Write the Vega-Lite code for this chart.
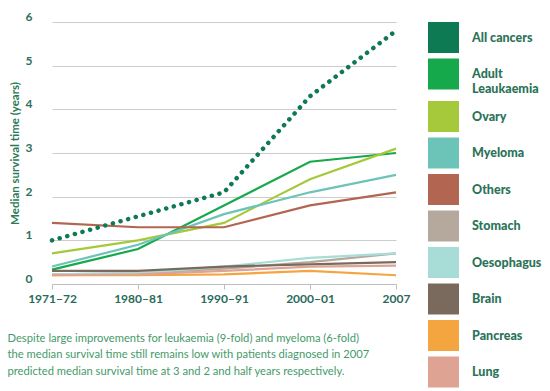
{
  "$schema": "https://vega.github.io/schema/vega-lite/v6.json",
  "width": 344,
  "height": 262,
  "autosize": {"type": "none"},
  "padding": {"left": 52, "top": 22, "right": 154, "bottom": 107},
  "background": "white",
  "config": {"view": {"stroke": null}, "font": "Lato"},
  "data": {
    "values": [
      {"period": "1971–72", "series": "All cancers", "years": 1.0},
      {"period": "1980–81", "series": "All cancers", "years": 1.55},
      {"period": "1990–91", "series": "All cancers", "years": 2.1},
      {"period": "2000–01", "series": "All cancers", "years": 4.3},
      {"period": "2007", "series": "All cancers", "years": 5.8},
      {"period": "1971–72", "series": "Adult Leaukaemia", "years": 0.33},
      {"period": "1980–81", "series": "Adult Leaukaemia", "years": 0.8},
      {"period": "1990–91", "series": "Adult Leaukaemia", "years": 1.8},
      {"period": "2000–01", "series": "Adult Leaukaemia", "years": 2.8},
      {"period": "2007", "series": "Adult Leaukaemia", "years": 3.0},
      {"period": "1971–72", "series": "Ovary", "years": 0.7},
      {"period": "1980–81", "series": "Ovary", "years": 1.0},
      {"period": "1990–91", "series": "Ovary", "years": 1.4},
      {"period": "2000–01", "series": "Ovary", "years": 2.4},
      {"period": "2007", "series": "Ovary", "years": 3.1},
      {"period": "1971–72", "series": "Myeloma", "years": 0.4},
      {"period": "1980–81", "series": "Myeloma", "years": 0.9},
      {"period": "1990–91", "series": "Myeloma", "years": 1.6},
      {"period": "2000–01", "series": "Myeloma", "years": 2.1},
      {"period": "2007", "series": "Myeloma", "years": 2.5},
      {"period": "1971–72", "series": "Others", "years": 1.4},
      {"period": "1980–81", "series": "Others", "years": 1.3},
      {"period": "1990–91", "series": "Others", "years": 1.3},
      {"period": "2000–01", "series": "Others", "years": 1.8},
      {"period": "2007", "series": "Others", "years": 2.1},
      {"period": "1971–72", "series": "Stomach", "years": 0.22},
      {"period": "1980–81", "series": "Stomach", "years": 0.25},
      {"period": "1990–91", "series": "Stomach", "years": 0.35},
      {"period": "2000–01", "series": "Stomach", "years": 0.5},
      {"period": "2007", "series": "Stomach", "years": 0.7},
      {"period": "1971–72", "series": "Oesophagus", "years": 0.22},
      {"period": "1980–81", "series": "Oesophagus", "years": 0.25},
      {"period": "1990–91", "series": "Oesophagus", "years": 0.4},
      {"period": "2000–01", "series": "Oesophagus", "years": 0.6},
      {"period": "2007", "series": "Oesophagus", "years": 0.7},
      {"period": "1971–72", "series": "Brain", "years": 0.3},
      {"period": "1980–81", "series": "Brain", "years": 0.3},
      {"period": "1990–91", "series": "Brain", "years": 0.4},
      {"period": "2000–01", "series": "Brain", "years": 0.45},
      {"period": "2007", "series": "Brain", "years": 0.5},
      {"period": "1971–72", "series": "Pancreas", "years": 0.2},
      {"period": "1980–81", "series": "Pancreas", "years": 0.2},
      {"period": "1990–91", "series": "Pancreas", "years": 0.22},
      {"period": "2000–01", "series": "Pancreas", "years": 0.3},
      {"period": "2007", "series": "Pancreas", "years": 0.2},
      {"period": "1971–72", "series": "Lung", "years": 0.2},
      {"period": "1980–81", "series": "Lung", "years": 0.22},
      {"period": "1990–91", "series": "Lung", "years": 0.3},
      {"period": "2000–01", "series": "Lung", "years": 0.4},
      {"period": "2007", "series": "Lung", "years": 0.42}
    ]
  },
  "encoding": {
    "x": {
      "field": "period",
      "type": "ordinal",
      "sort": ["1971–72", "1980–81", "1990–91", "2000–01", "2007"],
      "scale": {"type": "point", "padding": 0},
      "axis": {
        "title": [
          "Despite large improvements for leukaemia (9-fold) and myeloma (6-fold)",
          "the median survival time still remains low with patients diagnosed in 2007",
          "predicted median survival time at 3 and 2 and half years respectively."
        ],
        "titleX": -45,
        "titleY": 48,
        "titleAlign": "left",
        "titleAnchor": "start",
        "titleBaseline": "top",
        "titleFontSize": 11.2,
        "titleFontWeight": "normal",
        "titleColor": "#459a6a",
        "titleLineHeight": 16.5,
        "titleLimit": 500,
        "labelAngle": 0,
        "domainColor": "#bdbdbd",
        "tickColor": "#bdbdbd",
        "tickSize": 5,
        "labelPadding": 4,
        "labelFontSize": 12,
        "labelFontWeight": "bold",
        "labelColor": "#2b6a5a",
        "grid": false
      }
    },
    "y": {
      "field": "years",
      "type": "quantitative",
      "scale": {"domain": [0, 6]},
      "axis": {
        "values": [0, 1, 2, 3, 4, 5, 6],
        "domain": false,
        "ticks": false,
        "grid": true,
        "gridColor": "#cccccc",
        "labelPadding": 20,
        "labelFontSize": 12,
        "labelFontWeight": "bold",
        "labelColor": "#2e7060",
        "labelBaseline": "alphabetic",
        "labelOffset": -1.5,
        "title": "Median survival time (years)",
        "titleFontSize": 11.5,
        "titleFontWeight": "bold",
        "titleColor": "#2b7a58",
        "titlePadding": 5
      }
    },
    "color": {
      "field": "series",
      "type": "nominal",
      "scale": {
        "domain": ["All cancers", "Adult Leaukaemia", "Ovary", "Myeloma", "Others", "Stomach", "Oesophagus", "Brain", "Pancreas", "Lung"],
        "range": ["#0e7a53", "#16a94c", "#a5c93a", "#6cc4b8", "#b26550", "#b5a89c", "#a8dcd6", "#7a6a5e", "#f5a540", "#dea393"]
      },
      "legend": {
        "orient": "none",
        "legendX": 376,
        "legendY": 0,
        "title": null,
        "symbolType": "square",
        "symbolSize": 961,
        "symbolStrokeWidth": 0,
        "rowPadding": 5.5,
        "labelOffset": 13,
        "labelFontSize": 12.5,
        "labelFont": "Lato",
        "labelFontWeight": 900,
        "labelColor": "#2b7358",
        "labelLimit": 200,
        "labelExpr": "datum.label == 'Adult Leaukaemia' ? ['Adult', 'Leaukaemia'] : datum.label",
        "encode": {
          "symbols": {
            "update": {
              "fill": {"scale": "color", "field": "value"},
              "opacity": {"value": 1},
              "strokeWidth": {"value": 0}
            }
          }
        }
      }
    }
  },
  "layer": [
    {
      "transform": [{"filter": "datum.series !== 'All cancers'"}],
      "mark": {"type": "line", "strokeWidth": 2.2}
    },
    {
      "transform": [{"filter": "datum.series === 'All cancers'"}],
      "mark": {"type": "line", "strokeWidth": 4.5, "strokeDash": [0.1, 7.8], "strokeCap": "round"}
    }
  ]
}
